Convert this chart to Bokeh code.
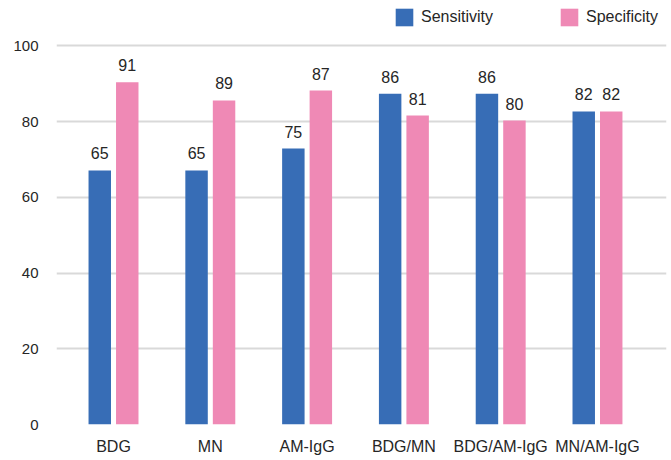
from bokeh.plotting import figure
from bokeh.models import ColumnDataSource, Legend, LegendItem, FixedTicker, CustomJSTickFormatter
from bokeh.core.properties import value
from bokeh.embed import file_html
from bokeh.resources import INLINE

categories = ["BDG", "MN", "AM-IgG", "BDG/MN", "BDG/AM-IgG", "MN/AM-IgG"]
sensitivity_bar = [67.1, 67.1, 72.9, 87.4, 87.4, 82.7]
specificity_bar = [90.4, 85.6, 88.2, 81.6, 80.3, 82.7]
sensitivity_label = ["65", "65", "75", "86", "86", "82"]
specificity_label = ["91", "89", "87", "81", "80", "82"]
y_ticks = [0, 20, 40, 60, 80, 100]

BLUE = "#376db6"
PINK = "#ef89b5"
TEXT = "#262626"
FONT = "Liberation Sans"

xs = list(range(len(categories)))
off = 0.142
w = 0.232

src_s = ColumnDataSource(dict(x=[i - off for i in xs], top=sensitivity_bar, lab=sensitivity_label))
src_p = ColumnDataSource(dict(x=[i + off for i in xs], top=specificity_bar, lab=specificity_label))

# frame extends to the top of the figure so the legend can sit above the 100 gridline
p = figure(width=671, height=460, output_backend="svg", toolbar_location=None,
           x_range=(-0.589, 5.713), y_range=(0, 112.0),
           min_border_left=56, min_border_right=5, min_border_top=0, min_border_bottom=36)
p.outline_line_color = None

r1 = p.vbar(x="x", top="top", width=w, source=src_s, fill_color=BLUE, line_color=None)
r2 = p.vbar(x="x", top="top", width=w, source=src_p, fill_color=PINK, line_color=None)

p.text(x="x", y="top", text="lab", source=src_s, text_align="center",
       text_baseline="alphabetic", y_offset=-17, text_font=value(FONT),
       text_font_size="16px", text_color=TEXT)
p.text(x="x", y="top", text="lab", source=src_p, text_align="center",
       text_baseline="alphabetic", y_offset=-17, text_font=value(FONT),
       text_font_size="16px", text_color=TEXT)

p.xgrid.grid_line_color = None
p.ygrid.grid_line_color = "#d9d9d9"
p.ygrid.grid_line_width = 2
p.yaxis.ticker = FixedTicker(ticks=y_ticks)
p.xaxis.ticker = FixedTicker(ticks=xs)
p.xaxis.formatter = CustomJSTickFormatter(args=dict(labels=categories),
                                          code="return labels[Math.round(tick)];")

for ax in (p.xaxis[0], p.yaxis[0]):
    ax.axis_line_color = None
    ax.major_tick_line_color = None
    ax.minor_tick_line_color = None
    ax.major_label_text_font = FONT
    ax.major_label_text_color = TEXT
p.yaxis.major_label_text_font_size = "15px"
p.yaxis.major_label_standoff = 12
p.xaxis.major_label_text_font_size = "16px"
p.xaxis.major_label_standoff = 7

legend = Legend(items=[LegendItem(label="Sensitivity", renderers=[r1]),
                       LegendItem(label="Specificity", renderers=[r2])],
                orientation="horizontal", location=(337, 396),
                glyph_width=22, glyph_height=22, label_standoff=6, spacing=57,
                label_width=80, padding=0, margin=0, border_line_color=None,
                background_fill_alpha=0,
                label_text_font=FONT, label_text_font_size="16px", label_text_color=TEXT,
                label_height=22)
p.add_layout(legend)

open("out.html", "w").write(file_html(p, INLINE))
